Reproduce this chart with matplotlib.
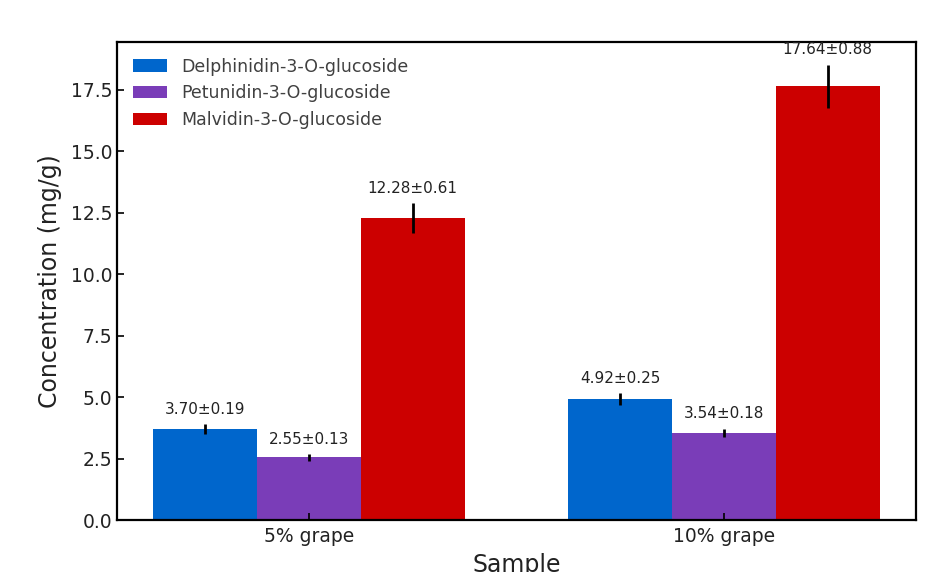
import numpy as np
import matplotlib
matplotlib.use("Agg")
import matplotlib.pyplot as plt

samples = ["5% grape", "10% grape"]
compounds = ["Delphinidin-3-O-glucoside", "Petunidin-3-O-glucoside", "Malvidin-3-O-glucoside"]
means = {
    "Delphinidin-3-O-glucoside": [3.70, 4.92],
    "Petunidin-3-O-glucoside": [2.55, 3.54],
    "Malvidin-3-O-glucoside": [12.28, 17.64],
}
sds = {
    "Delphinidin-3-O-glucoside": [0.19, 0.25],
    "Petunidin-3-O-glucoside": [0.13, 0.18],
    "Malvidin-3-O-glucoside": [0.61, 0.88],
}
COLORS = ["#0066cc", "#7a3db8", "#cc0000"]

fig = plt.figure(figsize=(9.42, 5.72), dpi=100)
ax = fig.add_axes([117 / 942, 52 / 572, (916 - 117) / 942, (520 - 42) / 572])

x = np.arange(len(samples))
w = 0.25
for i, (name, col) in enumerate(zip(compounds, COLORS)):
    pos = x + (i - 1) * w
    ax.bar(pos, means[name], w, yerr=sds[name], color=col, label=name,
           error_kw=dict(ecolor="black", elinewidth=2, capsize=0))
    for px, m, s in zip(pos, means[name], sds[name]):
        ax.text(px, m + s + 0.3, f"{m:.2f}±{s:.2f}", ha="center", va="bottom",
                fontsize=11, color="#222222")

ax.set_xticks(x)
ax.set_xticklabels(samples)
ax.tick_params(direction="in", labelsize=13.5, width=1.2, length=5, labelcolor="#222222")
ax.tick_params(axis="x", pad=5)
ax.set_ylabel("Concentration (mg/g)", fontsize=17, color="#222222", labelpad=6)
ax.set_xlabel("Sample", fontsize=17, color="#222222", labelpad=5)
for sp in ax.spines.values():
    sp.set_linewidth(1.6)
leg = ax.legend(loc="upper left", frameon=False, fontsize=12.5)
for t in leg.get_texts():
    t.set_color("#404040")

fig.savefig("out.png", dpi=100, facecolor="white")
